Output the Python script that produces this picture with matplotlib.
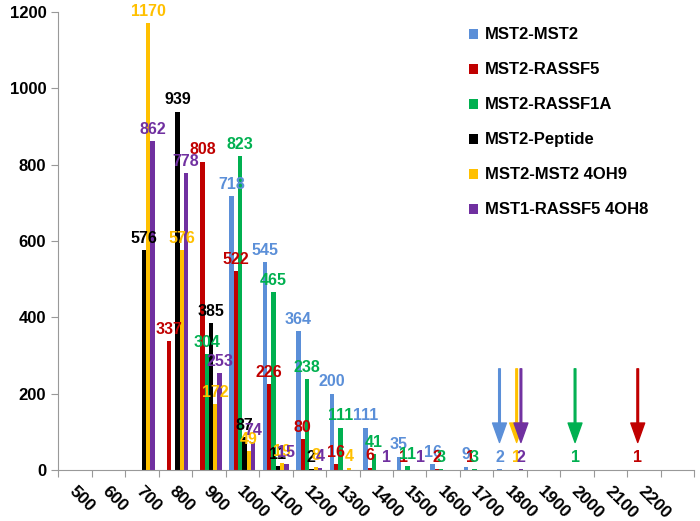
import numpy as np
import matplotlib
matplotlib.use("Agg")
import matplotlib.pyplot as plt

plt.rcParams['font.family'] = ['Liberation Sans', 'DejaVu Sans']

# x categories (last slot on the axis has no label)
categories = ["500", "600", "700", "800", "900", "1000", "1100", "1200", "1300",
              "1400", "1500", "1600", "1700", "1800", "1900", "2000", "2100", "2200"]

series_names = ["MST2-MST2", "MST2-RASSF5", "MST2-RASSF1A",
                "MST2-Peptide", "MST2-MST2 4OH9", "MST1-RASSF5 4OH8"]
colors = ["#5B8FD8", "#C00000", "#00B050", "#000000", "#FFC000", "#7030A0"]

mst2_mst2 = [0, 0, 0, 0, 0, 718, 545, 364, 200, 111, 35, 16, 9, 2, 0, 0, 0, 0]
mst2_rassf5 = [0, 0, 0, 337, 808, 522, 226, 80, 16, 6, 1, 2, 1, 0, 0, 0, 0, 1]
mst2_rassf1a = [0, 0, 0, 0, 304, 823, 465, 238, 111, 41, 11, 3, 3, 0, 0, 1, 0, 0]
mst2_peptide = [0, 0, 576, 939, 385, 87, 11, 2, 0, 0, 0, 0, 0, 0, 0, 0, 0, 0]
mst2_mst2_4oh9 = [0, 0, 1170, 576, 172, 49, 19, 8, 4, 0, 0, 0, 0, 1, 0, 0, 0, 0]
mst1_rassf5_4oh8 = [0, 0, 862, 778, 253, 74, 15, 4, 0, 1, 1, 0, 0, 2, 0, 0, 0, 0]

all_series = [mst2_mst2, mst2_rassf5, mst2_rassf1a, mst2_peptide, mst2_mst2_4oh9, mst1_rassf5_4oh8]

# arrows marking the longest (single) events: (series index, category)
arrow_marks = [(0, "1800"), (4, "1800"), (5, "1800"), (2, "2000"), (1, "2200")]

fig = plt.figure(figsize=(7, 5.21), dpi=100)
ax = fig.add_axes([0.083, 0.098, 0.909, 0.879])

x = np.arange(len(categories))
bw = 0.128
for i, (vals, name, c) in enumerate(zip(all_series, series_names, colors)):
    pos = x + (i - 2.5) * bw
    ax.bar(pos, vals, width=bw, color=c, label=name, linewidth=0)
    for p, v in zip(pos, vals):
        if v > 0:
            ax.annotate(str(v), (p, v), xytext=(0, 3), textcoords="offset points",
                        ha="center", va="bottom", color=c, fontsize=11.5, fontweight="bold")

for si, cat in arrow_marks:
    px = categories.index(cat) + (si - 2.5) * bw
    c = colors[si]
    ax.annotate("", xy=(px, 72), xytext=(px, 265),
                arrowprops=dict(facecolor=c, edgecolor=c, width=1.2,
                                headwidth=10, headlength=14, shrink=0))

ax.set_xlim(-0.5, len(categories) + 0.5)
ax.set_ylim(0, 1200)
ax.set_yticks(range(0, 1201, 200))
ax.set_xticks(np.arange(-0.5, len(categories) + 1, 1), minor=False)
ax.set_xticklabels([])
ax.tick_params(axis="x", length=5, color="#999999", direction="out")
ax.tick_params(axis="y", length=5, color="#999999", direction="out", labelsize=12)
for lab in ax.get_yticklabels():
    lab.set_fontweight("bold")

for k, cat in enumerate(categories):
    ax.text(k - 0.1, -50, cat, rotation=-45, rotation_mode="anchor",
            ha="left", va="center", fontsize=12.5, fontweight="bold")

for s in ["top", "right"]:
    ax.spines[s].set_visible(False)
for s in ["left", "bottom"]:
    ax.spines[s].set_color("#999999")

leg = ax.legend(loc="upper left", bbox_to_anchor=(0.622, 0.999), frameon=False,
                handlelength=0.55, handleheight=0.55, handletextpad=0.4,
                labelspacing=1.2, prop={"weight": "bold", "size": 12})

fig.savefig("out.png", dpi=100)
